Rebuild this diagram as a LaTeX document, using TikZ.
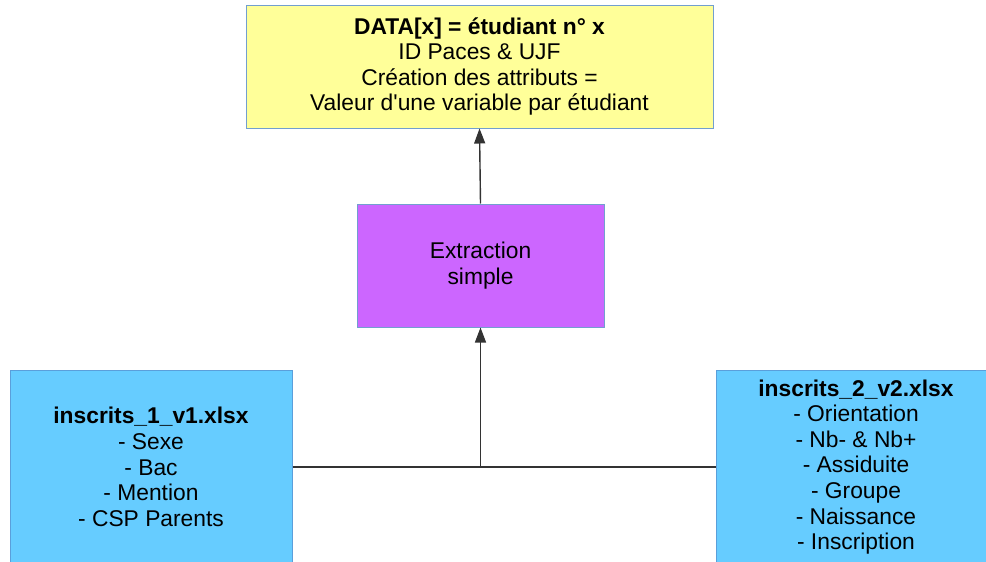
\documentclass[tikz,border=0pt]{standalone}
\usepackage{fontspec}
\setmainfont{Liberation Sans}
\usetikzlibrary{arrows.meta}
\definecolor{yel}{HTML}{FFFF99}
\definecolor{purp}{HTML}{CC66FF}
\definecolor{sky}{HTML}{66CCFF}
\definecolor{edge}{HTML}{729FCF}
\definecolor{edgeb}{HTML}{5A9FDB}
\definecolor{wire}{HTML}{333333}
\begin{document}
\begin{tikzpicture}[x=1pt,y=-1pt,
  box/.style={draw=edge,line width=1pt,inner sep=0pt,align=center,
    font=\fontsize{22.8}{25.6}\selectfont},
  wirestyle/.style={draw=wire,line width=1.4pt},
  arr/.style={wirestyle,-{Triangle[length=15pt,width=11pt]}}]
\useasboundingbox (0,0) rectangle (986,562);
\clip (0,0) rectangle (986,562);
\node[box,fill=yel,minimum width=467pt,minimum height=123pt] (data) at (479.5,66.5)
  {\textbf{DATA[x] = étudiant n° x}\\ID Paces \& UJF\\Création des attributs =\\Valeur d\textquotesingle une variable par étudiant};
\node[box,fill=purp,minimum width=247pt,minimum height=123pt] (extr) at (480.5,265.5)
  {Extraction\\simple};
\node[box,draw=edgeb,fill=sky,minimum width=282pt,minimum height=194pt] (ins1) at (151,467)
  {\textbf{inscrits\_1\_v1.xlsx}\\- Sexe\\- Bac\\- Mention\\- CSP Parents};
\node[box,draw=edgeb,fill=sky,minimum width=280pt,minimum height=194pt] (ins2) at (856,467)
  {\textbf{inscrits\_2\_v2.xlsx}\\- Orientation\\- Nb- \& Nb+\\- Assiduite\\- Groupe\\- Naissance\\- Inscription};
\draw[wirestyle] (ins1.east) -- (ins2.west);
\draw[arr] (extr.south |- ins1.east) -- (extr.south);
\draw[arr] (extr.north) -- (data.south);
\end{tikzpicture}
\end{document}
